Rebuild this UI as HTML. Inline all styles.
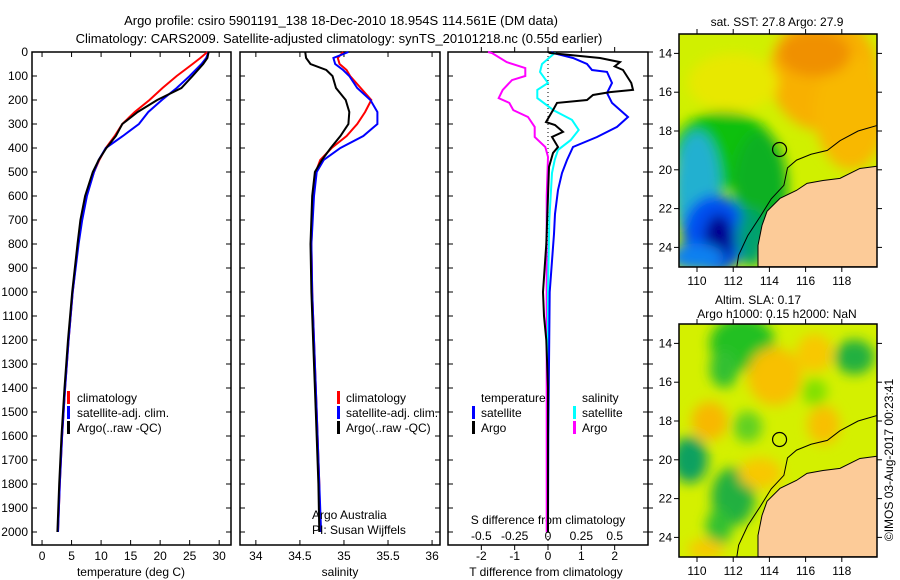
<!DOCTYPE html>
<html><head><meta charset="utf-8"><style>
html,body{margin:0;padding:0;background:#fff;}
svg{display:block;font-family:"Liberation Sans",sans-serif;}
text{font-size:12px;fill:#000;}
</style></head><body>
<svg id="c" width="900" height="580" viewBox="0 0 900 580" xmlns="http://www.w3.org/2000/svg">
<defs>
<filter id="bl" x="-50%" y="-50%" width="200%" height="200%"><feGaussianBlur stdDeviation="6"/></filter>
<clipPath id="m1c"><rect x="679" y="34" width="198" height="233"/></clipPath>
<clipPath id="m2c"><rect x="679" y="324" width="198" height="233"/></clipPath>
</defs>
<text x="341" y="25" text-anchor="middle" style="font-size:13px">Argo profile: csiro 5901191_138 18-Dec-2010 18.954S 114.561E (DM data)</text>
<text x="339" y="43" text-anchor="middle" style="font-size:13px">Climatology: CARS2009. Satellite-adjusted climatology: synTS_20101218.nc (0.55d earlier)</text>
<g id="g"></g>
</svg>
<script>
// ---- data ----
const depthTicks = [0,100,200,300,400,500,600,700,800,900,1000,1100,1200,1300,1400,1500,1600,1700,1800,1900,2000];
const tTicks = [0,5,10,15,20,25,30];
const sTicks = [34,34.5,35,35.5,36];
const sTickLabels = ["34","34.5","35","35.5","36"];
const tdTicks = [-2,-1,0,1,2];
const sdTicks = [-0.5,-0.25,0,0.25,0.5];
const sdTickLabels = ["-0.5","-0.25","0","0.25","0.5"];

const depthArgoT = [0,25,50,100,150,200,250,300,350,400,450,500,600,700,800,1000,1200,1400,1600,1800,2000];
const tArgo = [28.2,28.0,27.3,25.5,23.6,19.5,16.2,13.6,12.5,10.9,9.6,8.6,7.3,6.5,6.0,5.1,4.4,3.8,3.3,2.9,2.6];
const depthClimT = [0,25,50,100,150,200,250,300,350,400,450,500,600,700,800,1000,1200,1400,1600,1800,2000];
const tClim = [28.0,26.8,25.5,22.8,20.4,18.2,15.7,13.6,12.3,10.8,9.7,8.8,7.5,6.6,6.1,5.2,4.5,3.9,3.4,3.0,2.7];
const depthSatT = [0,25,50,100,150,200,250,300,350,400,450,500,600,700,800,1000,1200,1400,1600,1800,2000];
const tSat = [28.2,27.8,27.0,25.0,22.8,20.3,18.0,16.4,13.7,10.8,9.6,8.8,7.6,6.8,6.2,5.2,4.5,3.9,3.4,3.0,2.7];

const depthS = [0,25,50,75,100,150,200,250,300,350,400,450,500,600,800,1000,1200,1500,1800,2000];
const sArgo = [34.56,34.57,34.62,34.80,34.87,34.91,35.02,35.06,35.05,34.96,34.85,34.75,34.67,34.64,34.62,34.63,34.65,34.68,34.71,34.72];
const sClim = [34.99,34.93,34.95,35.03,35.07,35.19,35.31,35.24,35.15,35.03,34.86,34.73,34.68,34.65,34.63,34.64,34.66,34.69,34.72,34.73];
const sSat = [35.05,34.88,34.90,34.99,35.06,35.15,35.30,35.38,35.38,35.22,34.96,34.77,34.69,34.66,34.63,34.64,34.66,34.69,34.72,34.74];

const depthTdArgo = [0,4,25,42,60,75,129,158,167,179,200,212,242,292,304,333,354,396,421,479,600,800,1000,1100,1200,1400,2000];
const tdArgo = [0,0.06,1.56,2.16,2.0,2.25,2.5,2.55,1.86,1.35,1.17,0.27,0.15,-0.06,0.21,0.45,0.12,0.3,0.15,0.03,0,-0.05,-0.15,-0.12,-0.05,0,0];
const depthTdSat = [0,4,25,50,75,83,129,171,212,271,312,354,396,450,504,575,675,758,1000,1300,1600,2000];
const tdSat = [0.1,0.15,0.75,1.17,1.32,1.77,1.92,1.77,1.92,2.4,2.07,1.47,0.75,0.57,0.42,0.3,0.21,0.18,0.05,0.03,0.01,0];
const depthSdSat = [0,4,50,83,129,158,192,242,283,325,367,408,450,504,700,1000,2000];
const sdSat = [0.05,0.05,-0.045,-0.06,0,-0.08,-0.08,0.04,0.18,0.23,0.17,0.075,0.05,0.03,0.01,0,0];
const depthSdArgo = [0,4,42,67,100,117,158,192,212,242,271,312,354,396,437,600,1000,2000];
const sdArgo = [-0.45,-0.42,-0.31,-0.17,-0.17,-0.27,-0.34,-0.37,-0.29,-0.26,-0.15,-0.1,-0.1,-0.02,0,-0.01,-0.01,-0.01];

const lonTicks = [110,112,114,116,118];
const latTicks = [14,16,18,20,22,24];

// ---- helpers ----
const NS='http://www.w3.org/2000/svg';
const G=document.getElementById('g');
function mk(t,a,p){const e=document.createElementNS(NS,t);for(const k in a)e.setAttribute(k,a[k]);(p||G).appendChild(e);return e;}
const TOP=52, BOT=545;
const yD = d => TOP + d*0.24;
function axisX(x0,x1,v0,v1){return v=>x0+(v-v0)/(v1-v0)*(x1-x0);}
const xT = axisX(32,231,-1.7,32.0);
const xS = axisX(240,440,33.82,36.09);
const xTd = axisX(448,648,-3,3);
const xSd = axisX(448,648,-0.75,0.75);

function panel(x0,x1,name,labels){
  const r=mk('rect',{x:x0,y:TOP,width:x1-x0,height:BOT-TOP,fill:'none',stroke:'#000','stroke-width':1.5});
  
  depthTicks.forEach(d=>{
    mk('line',{x1:x0,x2:x0+5,y1:yD(d),y2:yD(d),stroke:'#000'});
    mk('line',{x1:x1,x2:x1-5,y1:yD(d),y2:yD(d),stroke:'#000'});
    if(labels){const t=mk('text',{x:x0-4,y:yD(d)+4,'text-anchor':'end'});t.textContent=d;
      }
  });
}
function line(xf,depths,vals,col,name,w){
  const pts=depths.map((d,i)=>xf(vals[i]).toFixed(1)+','+yD(d).toFixed(1)).join(' ');
  const p=mk('polyline',{points:pts,fill:'none',stroke:col,'stroke-width':w||2});
  
}
function txt(x,y,s,name,anchor,size){const t=mk('text',{x:x,y:y,'text-anchor':anchor||'start'});if(size)t.style.fontSize=size+'px';t.textContent=s;
  return t;}
function legBar(x,y,col){mk('rect',{x:x,y:y-11,width:3,height:13,fill:col});}

// ---- panel 1: temperature ----
panel(32,231,'temperature-panel',true);
tTicks.forEach(v=>{mk('line',{x1:xT(v),x2:xT(v),y1:BOT,y2:BOT-5,stroke:'#000'});mk('line',{x1:xT(v),x2:xT(v),y1:TOP,y2:TOP+5,stroke:'#000'});
  txt(xT(v),560,String(v),'temperature-tick-label','middle');});
txt(131,576,'temperature (deg C)','temperature-axis-title','middle');
line(xT,depthClimT,tClim,'#f00','climatology-temperature-line');
line(xT,depthSatT,tSat,'#00f','satellite-temperature-line');
line(xT,depthArgoT,tArgo,'#000','argo-temperature-line');
legBar(67,402,'#f00');txt(77,402,'climatology','legend-climatology');
legBar(67,417,'#00f');txt(77,417,'satellite-adj. clim.','legend-satellite');
legBar(67,432,'#000');txt(77,432,'Argo(..raw -QC)','legend-argo');

// ---- panel 2: salinity ----
panel(240,440,'salinity-panel',false);
sTicks.forEach((v,i)=>{mk('line',{x1:xS(v),x2:xS(v),y1:BOT,y2:BOT-5,stroke:'#000'});mk('line',{x1:xS(v),x2:xS(v),y1:TOP,y2:TOP+5,stroke:'#000'});
  txt(xS(v),560,sTickLabels[i],'salinity-tick-label','middle');});
txt(340,576,'salinity','salinity-axis-title','middle');
line(xS,depthS,sClim,'#f00','climatology-salinity-line');
line(xS,depthS,sSat,'#00f','satellite-salinity-line');
line(xS,depthS,sArgo,'#000','argo-salinity-line');
legBar(337,402,'#f00');txt(346,402,'climatology','legend-climatology-s');
legBar(337,417,'#00f');txt(346,417,'satellite-adj. clim.','legend-satellite-s');
legBar(337,432,'#000');txt(346,432,'Argo(..raw -QC)','legend-argo-s');
txt(312,519,'Argo Australia','credit-argo-australia');
txt(312,534,'PI: Susan Wijffels','credit-pi');

// ---- panel 3: differences ----
panel(448,648,'difference-panel',false);
depthTicks.forEach(d=>mk('line',{x1:648,x2:653,y1:yD(d),y2:yD(d),stroke:'#000'}));
mk('line',{x1:xTd(0),x2:xTd(0),y1:TOP,y2:BOT,stroke:'#000','stroke-dasharray':'1,3'});
tdTicks.forEach(v=>{mk('line',{x1:xTd(v),x2:xTd(v),y1:BOT,y2:BOT+5,stroke:'#000'});mk('line',{x1:xTd(v),x2:xTd(v),y1:TOP,y2:TOP-5,stroke:'#000'});
  txt(xTd(v),560,String(v),'t-diff-tick-label','middle');});
sdTicks.forEach((v,i)=>txt(xSd(v),540,sdTickLabels[i],'s-diff-tick-label','middle'));
txt(548,524,'S difference from climatology','s-diff-axis-title','middle');
txt(546,576,'T difference from climatology','t-diff-axis-title','middle');
line(xSd,depthSdArgo,sdArgo,'#f0f','argo-salinity-diff-line');
line(xSd,depthSdSat,sdSat,'#0ff','satellite-salinity-diff-line');
line(xTd,depthTdSat,tdSat,'#00f','satellite-temperature-diff-line');
line(xTd,depthTdArgo,tdArgo,'#000','argo-temperature-diff-line');
txt(481,402,'temperature','legend-temperature-header');
legBar(472,417,'#00f');txt(481,417,'satellite','legend-t-satellite');
legBar(472,432,'#000');txt(481,432,'Argo','legend-t-argo');
txt(582,402,'salinity','legend-salinity-header');
legBar(573,417,'#0ff');txt(582,417,'satellite','legend-s-satellite');
legBar(573,432,'#f0f');txt(582,432,'Argo','legend-s-argo');

// ---- maps ----
function mapXY(y0){return [lon=>697+(lon-110)*18.1, lat=>y0+(lat-13)*19.4];}
const landLon=[119.94,119.0,117.9,116.96,116.08,115.5,114.59,113.87,113.59,113.37,113.37,120,120];
const landLat=[19.82,19.93,20.44,20.55,20.7,21.06,21.47,22.14,22.87,23.9,25,25,19.8];
const isoLon=[120,118.9,117.9,117.2,116.3,115.5,115.0,114.8,114.1,113.5,112.8,112.3,112.2];
const isoLat=[17.7,18.0,18.5,19.0,19.2,19.5,19.9,20.8,21.5,22.4,23.4,24.4,25];
function drawMap(y0,name,blobs,base,clip){
  const [X,Y]=mapXY(y0);
  const g=mk('g',{'clip-path':'url(#'+clip+')'});
  
  mk('rect',{x:679,y:y0,width:198,height:233,fill:base},g);
  const bg=mk('g',{filter:'url(#bl)'},g);
  blobs.forEach(b=>mk('ellipse',{cx:X(b[0]),cy:Y(b[1]),rx:b[2]*18.1,ry:b[3]*19.4,fill:b[4]},bg));
  mk('polygon',{points:landLon.map((l,i)=>X(l)+','+Y(landLat[i])).join(' '),fill:'#fccb98',stroke:'#000','stroke-width':1},g);
  mk('polyline',{points:isoLon.map((l,i)=>X(l)+','+Y(isoLat[i])).join(' '),fill:'none',stroke:'#000','stroke-width':1},g);
  const c=mk('circle',{cx:X(114.561),cy:Y(18.954),r:7,fill:'none',stroke:'#000','stroke-width':1.2});
  
  mk('rect',{x:679,y:y0,width:198,height:233,fill:'none',stroke:'#000','stroke-width':1.5});
  lonTicks.forEach(l=>{mk('line',{x1:X(l),x2:X(l),y1:y0+233,y2:y0+238,stroke:'#000'});mk('line',{x1:X(l),x2:X(l),y1:y0,y2:y0-5,stroke:'#000'});
    txt(X(l),y0+251,String(l),'longitude-tick-label','middle');});
  latTicks.forEach(l=>{mk('line',{x1:877,x2:882,y1:Y(l),y2:Y(l),stroke:'#000'});mk('line',{x1:679,x2:674,y1:Y(l),y2:Y(l),stroke:'#000'});
    txt(672,Y(l)+4,String(l),'latitude-tick-label','end');});
}
const sstBlobs=[[117,15,3,3,'#f8b000'],[118.5,17,2,3,'#f8b800'],[116.5,14,2,1.2,'#f09000'],[112,15.5,2.5,1.5,'#e8e800'],
 [111.5,19,2.8,2,'#10c010'],[113.5,21,1.5,3,'#10b020'],[110,21,1.3,3,'#20b0d0'],[111,23.3,1.8,2,'#0050f0'],[111.2,23.6,0.8,1.3,'#000090'],[113,23.5,0.8,1.5,'#00a070'],[110,24.5,1.5,0.7,'#1080f0']];
drawMap(34,'sst-map',sstBlobs,'#d0f000','m1c');
const slaBlobs=[[112.5,14,1.8,1.4,'#20c020'],[111.5,15.3,0.8,1,'#30c030'],[114.3,15.7,1.5,1.5,'#f8c000'],[116.5,14.5,1,1,'#f8c800'],[118.7,14.7,1.1,0.9,'#20b040'],
 [110.7,18,1,1,'#f8b800'],[112.8,18.3,0.8,0.8,'#60d020'],[117,18.2,0.9,1,'#f8c000'],[109.6,20,1,1.2,'#10a060'],[112,21.9,1.2,1.5,'#20b040'],[111.2,23.5,0.7,1,'#30c030'],
 [113.5,20.7,1.2,0.8,'#f8c800'],[116.5,16.5,0.7,0.7,'#80e000'],[110.5,24.6,1,0.5,'#f8c800']];
drawMap(324,'sla-map',slaBlobs,'#d4f000','m2c');
txt(777,26,'sat. SST: 27.8 Argo: 27.9','sst-map-title','middle');
txt(758,304,'Altim. SLA: 0.17','sla-map-title-1','middle');
txt(777,318,'Argo h1000: 0.15 h2000: NaN','sla-map-title-2','middle');
const cr=txt(0,0,'©IMOS 03-Aug-2017 00:23:41','imos-timestamp','middle');
cr.setAttribute('transform','translate(893,460) rotate(-90)');
</script>
</body></html>
